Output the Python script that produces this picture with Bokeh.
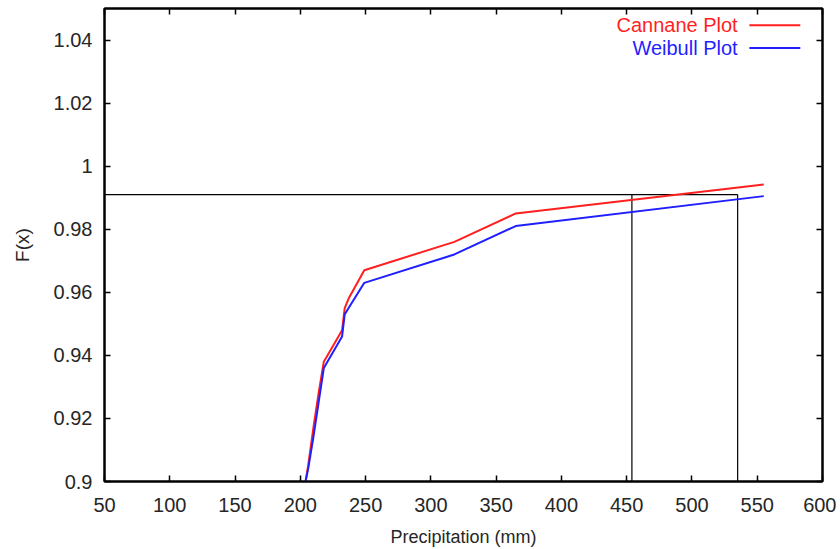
from bokeh.plotting import figure
from bokeh.models import Range1d, LinearAxis, FixedTicker, Label, Arrow
from bokeh.embed import file_html
from bokeh.resources import INLINE

# ---- data ----
precip = [204, 206, 210, 214, 218, 225, 232, 234, 237, 249, 318, 365, 555]
cannane = [0.900, 0.905, 0.917, 0.928, 0.938, 0.943, 0.948, 0.955, 0.958, 0.967, 0.976, 0.985, 0.9942]
weibull = [0.900, 0.904, 0.914, 0.925, 0.936, 0.941, 0.946, 0.953, 0.955, 0.963, 0.972, 0.981, 0.9905]

ref_level = 0.991          # horizontal reference F(x)
ref_x = [454, 535]         # precipitation where curves reach the reference level

x_ticks = [50, 100, 150, 200, 250, 300, 350, 400, 450, 500, 550, 600]
x_tick_labels = [str(v) for v in x_ticks]
y_ticks = [0.90, 0.92, 0.94, 0.96, 0.98, 1.00, 1.02, 1.04]
y_tick_labels = ["0.9", "0.92", "0.94", "0.96", "0.98", "1", "1.02", "1.04"]

series_names = ["Cannane Plot", "Weibull Plot"]
series_colors = ["#ff1f1f", "#1f1fff"]

FONT = "Liberation Sans"
TXT = "#262626"

p = figure(width=836, height=549, output_backend="svg", toolbar_location=None,
           x_range=Range1d(50, 600), y_range=Range1d(0.9, 1.05),
           min_border_left=104, min_border_right=14, min_border_top=8, min_border_bottom=68)
p.grid.visible = False
p.outline_line_color = "black"
p.outline_line_width = 2
p.background_fill_color = "white"
p.border_fill_color = "white"

def style_axis(ax, labels=True):
    ax.axis_line_color = "black"
    ax.axis_line_width = 2
    ax.major_tick_in = 6
    ax.major_tick_out = 0
    ax.minor_tick_in = 0
    ax.minor_tick_out = 0
    ax.major_tick_line_color = "black"
    ax.major_tick_line_width = 1.5
    if labels:
        ax.major_label_text_font = FONT
        ax.major_label_text_font_size = "20px"
        ax.major_label_text_color = TXT
    else:
        ax.major_label_text_font_size = "0px"
        ax.major_label_text_alpha = 0

xa = p.xaxis[0]
xa.ticker = FixedTicker(ticks=x_ticks)
xa.major_label_overrides = {v: l for v, l in zip(x_ticks, x_tick_labels)}
style_axis(xa)
xa.major_label_standoff = 16
xa.axis_label = "Precipitation (mm)"
xa.axis_label_text_font = FONT
xa.axis_label_text_font_size = "18px"
xa.axis_label_text_font_style = "normal"
xa.axis_label_text_color = TXT
xa.axis_label_standoff = 12

ya = p.yaxis[0]
ya.ticker = FixedTicker(ticks=y_ticks)
ya.major_label_overrides = {v: l for v, l in zip(y_ticks, y_tick_labels)}
style_axis(ya)
ya.major_label_standoff = 12
ya.axis_label = "F(x)"
ya.axis_label_text_font = FONT
ya.axis_label_text_font_size = "19px"
ya.axis_label_text_font_style = "normal"
ya.axis_label_text_color = TXT
ya.axis_label_standoff = 18

top = LinearAxis(ticker=FixedTicker(ticks=x_ticks))
style_axis(top, labels=False)
p.add_layout(top, "above")
right = LinearAxis(ticker=FixedTicker(ticks=y_ticks))
style_axis(right, labels=False)
p.add_layout(right, "right")

# reference lines
p.line([50, ref_x[1]], [ref_level, ref_level], line_color="black", line_width=1.2)
for rx in ref_x:
    p.line([rx, rx], [0.9, ref_level], line_color="black", line_width=1.2)

# curves
p.line(precip, cannane, line_color=series_colors[0], line_width=2)
p.line(precip, weibull, line_color=series_colors[1], line_width=2)

# legend (text right, sample line to its right, gnuplot style)
leg_text_x = 535
leg_line_x = [544, 583]
leg_y = [1.0447, 1.0375]
for name, col, ly in zip(series_names, series_colors, leg_y):
    p.add_layout(Label(x=leg_text_x, y=ly, text=name, text_align="right",
                       text_baseline="middle", text_font=FONT,
                       text_font_size="20px", text_color=col))
    p.add_layout(Arrow(end=None, x_start=leg_line_x[0], y_start=ly,
                       x_end=leg_line_x[1], y_end=ly,
                       line_color=col, line_width=2))

open("out.html", "w").write(file_html(p, INLINE))
